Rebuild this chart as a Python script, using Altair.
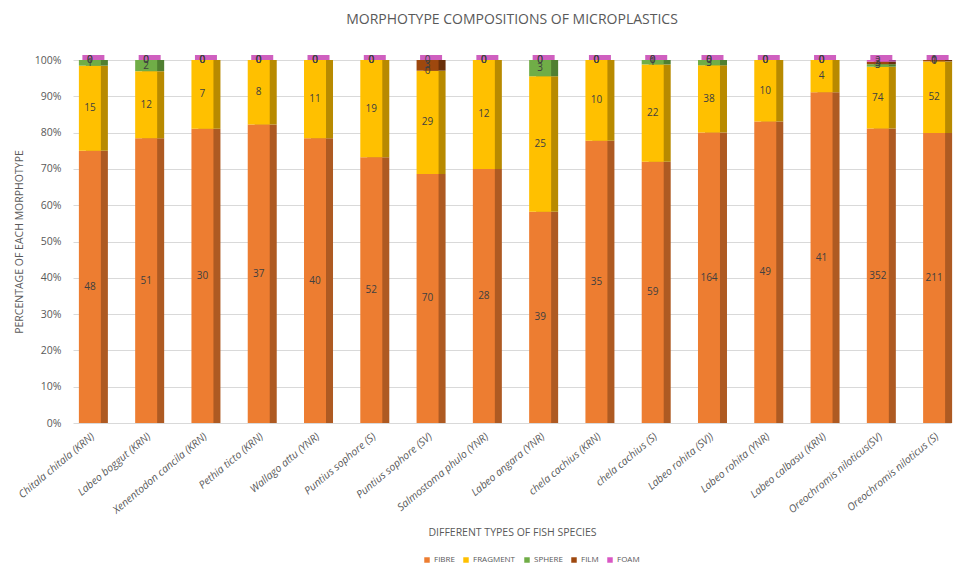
import altair as alt
import pandas as pd

species = [
    "Chitala chitala (KRN)", "Labeo boggut (KRN)", "Xenentodon cancila (KRN)",
    "Pethia ticto (KRN)", "Wallago attu (YNR)", "Puntius sophore (S)",
    "Puntius sophore (SV)", "Salmostoma phulo (YNR)", "Labeo angara (YNR)",
    "chela cachius (KRN)", "chela cachius (S)", "Labeo rohita (SV))",
    "Labeo rohita (YNR)", "Labeo calbasu (KRN)", "Oreochromis niloticus(SV)",
    "Oreochromis niloticus (S)",
]
fibre = [48, 51, 30, 37, 40, 52, 70, 28, 39, 35, 59, 164, 49, 41, 352, 211]
fragment = [15, 12, 7, 8, 11, 19, 29, 12, 25, 10, 22, 38, 10, 4, 74, 52]
sphere = [1, 2, 0, 0, 0, 0, 0, 0, 3, 0, 1, 3, 0, 0, 3, 0]
film = [0, 0, 0, 0, 0, 0, 3, 0, 0, 0, 0, 0, 0, 0, 3, 1]
foam = [0, 0, 0, 0, 0, 0, 0, 0, 0, 0, 0, 0, 0, 0, 2, 0]

types = ["FIBRE", "FRAGMENT", "SPHERE", "FILM", "FOAM"]
colors = ["#ED7D31", "#FFC000", "#70AD47", "#9E480E", "#D957C4"]
side_colors = ["#AE5A22", "#B88A00", "#4F7F31", "#6A300A", "#A23F91"]

rows = []
for i, sp in enumerate(species):
    for k, (t, vals) in enumerate(zip(types, [fibre, fragment, sphere, film, foam])):
        rows.append({"species": sp, "type": t, "order": k, "count": vals[i],
                     "side": side_colors[k]})
df = pd.DataFrame(rows)

FONT = "Open Sans"
GRAY = "#595959"

base = alt.Chart(df).transform_stack(
    stack="count", groupby=["species"], as_=["lo", "hi"],
    offset="normalize", sort=[alt.SortField("order", order="ascending")]
).transform_calculate(mid="(datum.lo + datum.hi) / 2")

xenc = alt.X("species:N", sort=species, title="DIFFERENT TYPES OF FISH SPECIES",
             scale=alt.Scale(paddingInner=0.6, paddingOuter=0.1),
             axis=alt.Axis(labelAngle=-40, labelAlign="right", labelBaseline="top",
                           labelFontStyle="italic", labelFontSize=10.5,
                           labelColor=GRAY, labelFont=FONT, titleFont=FONT,
                           titleFontWeight="normal", titleFontSize=10.5,
                           titleColor=GRAY, titlePadding=12, domain=False,
                           ticks=False, labelPadding=8))

yaxis = alt.Axis(format="%", values=[i / 10 for i in range(11)],
                 labelOverlap=False, labelColor=GRAY, labelFont=FONT,
                 labelFontSize=10.5, titleFont=FONT, titleFontWeight="normal",
                 titleFontSize=10.5, titleColor=GRAY, domain=False,
                 ticks=False, labelPadding=12, titlePadding=10,
                 gridColor="#D9D9D9")
yscale = alt.Scale(domain=[0, 1])

def yenc(field):
    return alt.Y(field, title="PERCENTAGE OF EACH MORPHOTYPE", scale=yscale,
                 axis=yaxis)

side = base.mark_bar(size=22, xOffset=7).encode(
    x=xenc, y=yenc("lo:Q"), y2="hi:Q",
    color=alt.Color("side:N", scale=None),
)

front = base.mark_bar(size=22).encode(
    x=xenc, y=yenc("lo:Q"), y2="hi:Q",
    color=alt.Color("type:N", sort=types,
                    scale=alt.Scale(domain=types, range=colors),
                    legend=alt.Legend(orient="none", direction="horizontal",
                                      legendX=350, legendY=496,
                                      title=None, symbolType="square",
                                      symbolSize=30, labelFont=FONT,
                                      labelFontSize=8, labelColor=GRAY,
                                      columnPadding=7, labelOffset=3)),
)

top = base.transform_filter(alt.datum.type == "FOAM").mark_tick(
    orient="horizontal", size=22, thickness=5, xOffset=3.5, yOffset=-2.5,
    color="#CF5FBF", opacity=1
).encode(x=xenc, y=yenc("hi:Q"))

labels = base.mark_text(font=FONT, fontSize=10, color="#404040").encode(
    x=xenc,
    y=yenc("mid:Q"),
    text="count:Q",
)

chart = alt.layer(side, front, top, labels).properties(
    width=878, height=363,
    title=alt.Title("MORPHOTYPE COMPOSITIONS OF MICROPLASTICS", font=FONT,
                    fontSize=14, fontWeight="normal", color=GRAY, offset=28),
    padding={"left": 6, "right": 0, "top": 5, "bottom": 0},
).configure_view(stroke=None).configure_legend(
    labelLimit=200
)

chart.save("out.html", embed_options={"renderer": "svg", "actions": False})
